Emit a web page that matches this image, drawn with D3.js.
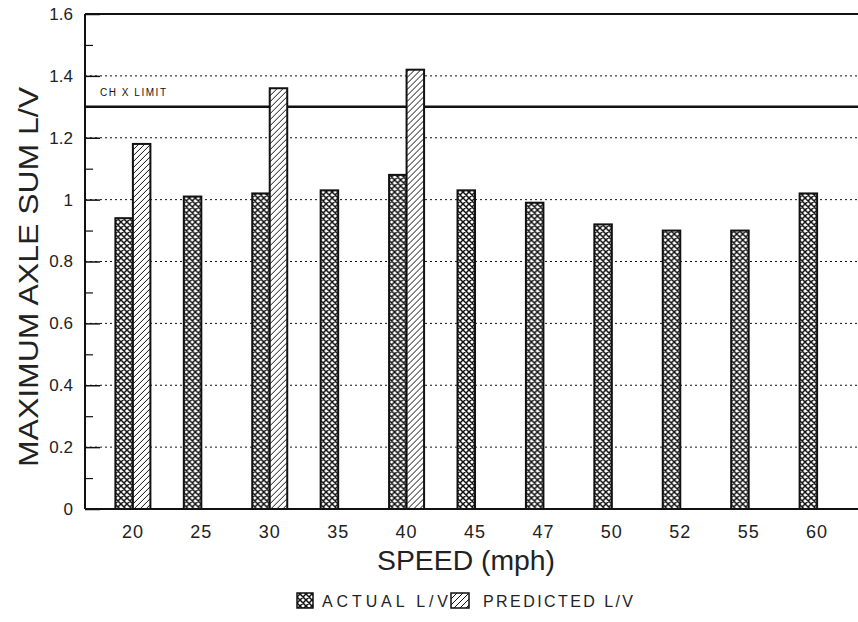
<!DOCTYPE html>
<html>
<head>
<meta charset="utf-8">
<script src="https://cdn.jsdelivr.net/npm/d3@7/dist/d3.min.js"></script>
<style>
  html, body { margin: 0; padding: 0; background: #fff; }
  svg { display: block; font-family: "Liberation Sans", Arial, sans-serif; }
</style>
</head>
<body>
<svg id="chart" width="858" height="622"></svg>
<script>
// Maximum axle sum L/V by speed: measured vs. predicted
const speeds = ["20", "25", "30", "35", "40", "45", "47", "50", "52", "55", "60"];
const actualLV = [0.94, 1.01, 1.02, 1.03, 1.08, 1.03, 0.99, 0.92, 0.90, 0.90, 1.02];
const predictedLV = [1.18, null, 1.36, null, 1.42, null, null, null, null, null, null];
const seriesNames = ["ACTUAL L/V", "PREDICTED L/V"];
const yTickValues = [0, 0.2, 0.4, 0.6, 0.8, 1.0, 1.2, 1.4, 1.6];
const yTickLabels = ["0", "0.2", "0.4", "0.6", "0.8", "1", "1.2", "1.4", "1.6"];
const yMinorValues = [0.1, 0.3, 0.5, 0.7, 0.9, 1.1, 1.3, 1.5];
const chxLimit = 1.3;
const chxLabel = "CH X  LIMIT";

const svg = d3.select("#chart");
const plot = { left: 85, right: 865, top: 14, bottom: 509 };
const ink = "#111";

const x = d3.scaleBand().domain(speeds).range([plot.left, plot.right])
  .paddingInner(0).paddingOuter(0.2);
const x1 = d3.scaleBand().domain(["actual", "predicted"]).range([-17.5, 17.5]);
const y = d3.scaleLinear().domain([0, 1.6]).range([plot.bottom, plot.top]);

// fill patterns
const defs = svg.append("defs");
const check = defs.append("pattern").attr("id", "checker")
  .attr("patternUnits", "userSpaceOnUse").attr("width", 6).attr("height", 6);
check.append("rect").attr("width", 6).attr("height", 6).attr("fill", "#fff");
check.append("path").attr("d", "M0,0L6,6M6,0L0,6M-1,5L1,7M5,-1L7,1M-1,1L1,-1M5,7L7,5")
  .attr("stroke", ink).attr("stroke-width", 1.5);
const hatch = defs.append("pattern").attr("id", "hatch")
  .attr("patternUnits", "userSpaceOnUse").attr("width", 6).attr("height", 6);
hatch.append("rect").attr("width", 6).attr("height", 6).attr("fill", "#fff");
hatch.append("path").attr("d", "M0,6L6,0M-1,1L1,-1M5,7L7,5")
  .attr("stroke", ink).attr("stroke-width", 1);

// gridlines at major ticks
svg.append("g").selectAll("line").data(yTickValues.filter(v => v > 0 && v < 1.6))
  .join("line")
  .attr("x1", plot.left).attr("x2", 858)
  .attr("y1", d => y(d)).attr("y2", d => y(d))
  .attr("stroke", ink).attr("stroke-width", 1).attr("stroke-dasharray", "2,3");

// CHX limit line and label
svg.append("line")
  .attr("x1", plot.left).attr("x2", 858)
  .attr("y1", y(chxLimit)).attr("y2", y(chxLimit))
  .attr("stroke", ink).attr("stroke-width", 2.5);
svg.append("text").attr("x", 100).attr("y", y(chxLimit) - 11)
  .attr("font-size", 10).attr("fill", ink)
  .attr("textLength", 66).attr("lengthAdjust", "spacing")
  .text(chxLabel);

// bars
const rows = speeds.map((s, i) => ({ speed: s, actual: actualLV[i], predicted: predictedLV[i] }));
const groups = svg.append("g").selectAll("g").data(rows).join("g")
  .attr("transform", d => `translate(${x(d.speed) + x.bandwidth() / 2},0)`);
groups.append("rect")
  .attr("x", x1("actual")).attr("width", x1.bandwidth())
  .attr("y", d => y(d.actual)).attr("height", d => y(0) - y(d.actual))
  .attr("fill", "url(#checker)").attr("stroke", ink).attr("stroke-width", 2);
groups.filter(d => d.predicted != null).append("rect")
  .attr("x", x1("predicted")).attr("width", x1.bandwidth())
  .attr("y", d => y(d.predicted)).attr("height", d => y(0) - y(d.predicted))
  .attr("fill", "url(#hatch)").attr("stroke", ink).attr("stroke-width", 2);

// left axis: labels and inward major ticks
const yAxis = svg.append("g").attr("transform", `translate(${plot.left},0)`)
  .call(d3.axisLeft(y).tickValues(yTickValues)
    .tickFormat((d, i) => yTickLabels[i]).tickSizeInner(-15).tickSizeOuter(0).tickPadding(12));
yAxis.select(".domain").remove();
yAxis.selectAll(".tick line").attr("stroke", ink).attr("stroke-width", 1.5);
yAxis.selectAll(".tick text").attr("font-size", 17).attr("fill", "#222")
  .attr("font-family", "Liberation Sans, Arial, sans-serif");

// minor ticks
const yMinor = svg.append("g").attr("transform", `translate(${plot.left},0)`)
  .call(d3.axisLeft(y).tickValues(yMinorValues).tickFormat("").tickSizeInner(-8).tickSizeOuter(0));
yMinor.select(".domain").remove();
yMinor.selectAll(".tick line").attr("stroke", ink).attr("stroke-width", 1.2);

// frame: left axis, baseline and top rule
svg.append("line").attr("x1", plot.left).attr("x2", plot.left)
  .attr("y1", plot.top).attr("y2", plot.bottom).attr("stroke", ink).attr("stroke-width", 2);
svg.append("line").attr("x1", plot.left).attr("x2", 858)
  .attr("y1", plot.bottom).attr("y2", plot.bottom).attr("stroke", ink).attr("stroke-width", 2);
svg.append("line").attr("x1", plot.left).attr("x2", 858)
  .attr("y1", plot.top).attr("y2", plot.top).attr("stroke", ink).attr("stroke-width", 2);

// bottom axis labels
const xAxis = svg.append("g").attr("transform", `translate(0,${plot.bottom})`)
  .call(d3.axisBottom(x).tickSize(0).tickPadding(16));
xAxis.select(".domain").remove();
xAxis.selectAll(".tick text").attr("font-size", 18).attr("fill", "#222")
  .attr("letter-spacing", 1)
  .attr("font-family", "Liberation Sans, Arial, sans-serif");

// axis titles
svg.append("text")
  .attr("transform", "translate(38,277) rotate(-90)")
  .attr("text-anchor", "middle").attr("font-size", 27).attr("fill", "#222")
  .attr("textLength", 380).attr("lengthAdjust", "spacingAndGlyphs")
  .text("MAXIMUM AXLE SUM L/V");
svg.append("text")
  .attr("x", 377).attr("y", 570)
  .attr("font-size", 27).attr("fill", "#222")
  .attr("textLength", 178).attr("lengthAdjust", "spacingAndGlyphs")
  .text("SPEED (mph)");

// legend
const legend = svg.append("g");
legend.append("rect").attr("x", 297).attr("y", 593).attr("width", 16).attr("height", 15)
  .attr("fill", "url(#checker)").attr("stroke", ink).attr("stroke-width", 1.5);
legend.append("text").attr("x", 322).attr("y", 607).attr("font-size", 16).attr("fill", "#222")
  .attr("textLength", 126).attr("lengthAdjust", "spacing").text(seriesNames[0]);
legend.append("rect").attr("x", 451).attr("y", 593).attr("width", 18).attr("height", 15)
  .attr("fill", "url(#hatch)").attr("stroke", ink).attr("stroke-width", 1.5);
legend.append("text").attr("x", 483).attr("y", 607).attr("font-size", 16).attr("fill", "#222")
  .attr("textLength", 150).attr("lengthAdjust", "spacing").text(seriesNames[1]);
</script>
</body>
</html>
